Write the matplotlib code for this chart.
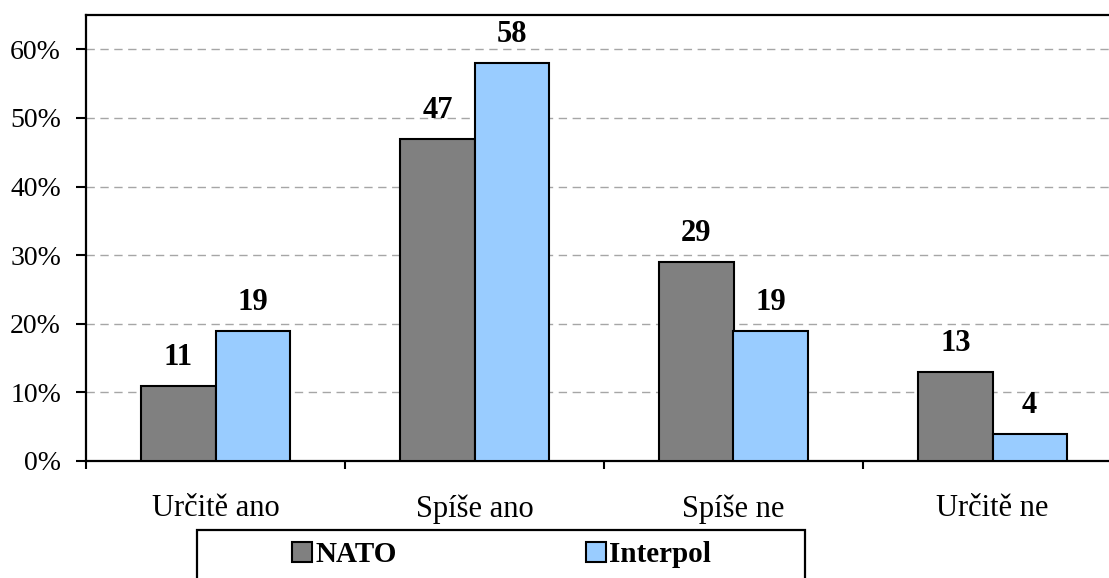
import numpy as np
import matplotlib
matplotlib.use("Agg")
import matplotlib.pyplot as plt
from matplotlib.patches import Rectangle, Patch

categories = ["Určitě ano", "Spíše ano", "Spíše ne", "Určitě ne"]
nato = [11, 47, 29, 13]
interpol = [19, 58, 19, 4]
series_names = ["NATO", "Interpol"]
yticks = [0, 10, 20, 30, 40, 50, 60]

plt.rcParams["font.family"] = ["Liberation Serif", "DejaVu Serif"]

W, H = 1109, 578
fig = plt.figure(figsize=(W / 100, H / 100), dpi=100)
ax = fig.add_axes([86 / W, 1 - 461 / H, 1036 / W, (461 - 15) / H])

x = np.arange(len(categories))
bw = 0.286
c_nato, c_int = "#808080", "#99CCFF"
ax.bar(x - bw / 2, nato, bw, color=c_nato, edgecolor="black", linewidth=1.5, zorder=3)
ax.bar(x + bw / 2, interpol, bw, color=c_int, edgecolor="black", linewidth=1.5, zorder=3)

for xi, v in zip(x, nato):
    ax.annotate(str(v), (xi - bw / 2, v), xytext=(0, 15), textcoords="offset points",
                ha="center", va="baseline", fontsize=22, fontweight="bold")
for xi, v in zip(x, interpol):
    ax.annotate(str(v), (xi + bw / 2, v), xytext=(0, 15), textcoords="offset points",
                ha="center", va="baseline", fontsize=22, fontweight="bold")

ax.set_xlim(-0.5, 3.5)
ax.set_ylim(0, 65)
ax.set_yticks(yticks)
ax.set_yticklabels([f"{t}%" for t in yticks], fontsize=20)
ax.tick_params(axis="y", length=7, width=1.5, pad=11)

ax.set_xticks(np.arange(-0.5, 4, 1.0))
ax.set_xticklabels([])
ax.tick_params(axis="x", which="major", length=6, width=1.5)
ax.set_xticks(x, minor=True)
ax.set_xticklabels(categories, minor=True, fontsize=22)
ax.tick_params(axis="x", which="minor", length=0, pad=24)

for t in yticks[1:]:
    ax.axhline(t, color="#A6A6A6", lw=1, ls=(0, (6, 4)), zorder=1)

ax.spines["right"].set_visible(False)
for s in ["left", "top", "bottom"]:
    ax.spines[s].set_linewidth(1.6)

# legend frame partly cut by the figure edge
fig.patches.append(Rectangle((197 / W, 1 - 600 / H), 608 / W, 70 / H,
                             transform=fig.transFigure, fill=False,
                             edgecolor="black", linewidth=1.6))
handles = [Patch(facecolor=c_nato, edgecolor="black", linewidth=1.5),
           Patch(facecolor=c_int, edgecolor="black", linewidth=1.5)]
fig.legend(handles, series_names, ncol=2, frameon=False, loc="center left",
           bbox_to_anchor=(292 / W, 1 - 555 / H), borderaxespad=0, borderpad=0,
           handlelength=0.69, handleheight=0.69, handletextpad=0.1,
           columnspacing=6.5, prop={"size": 21, "weight": "bold"})

fig.savefig("out.png", dpi=100)
